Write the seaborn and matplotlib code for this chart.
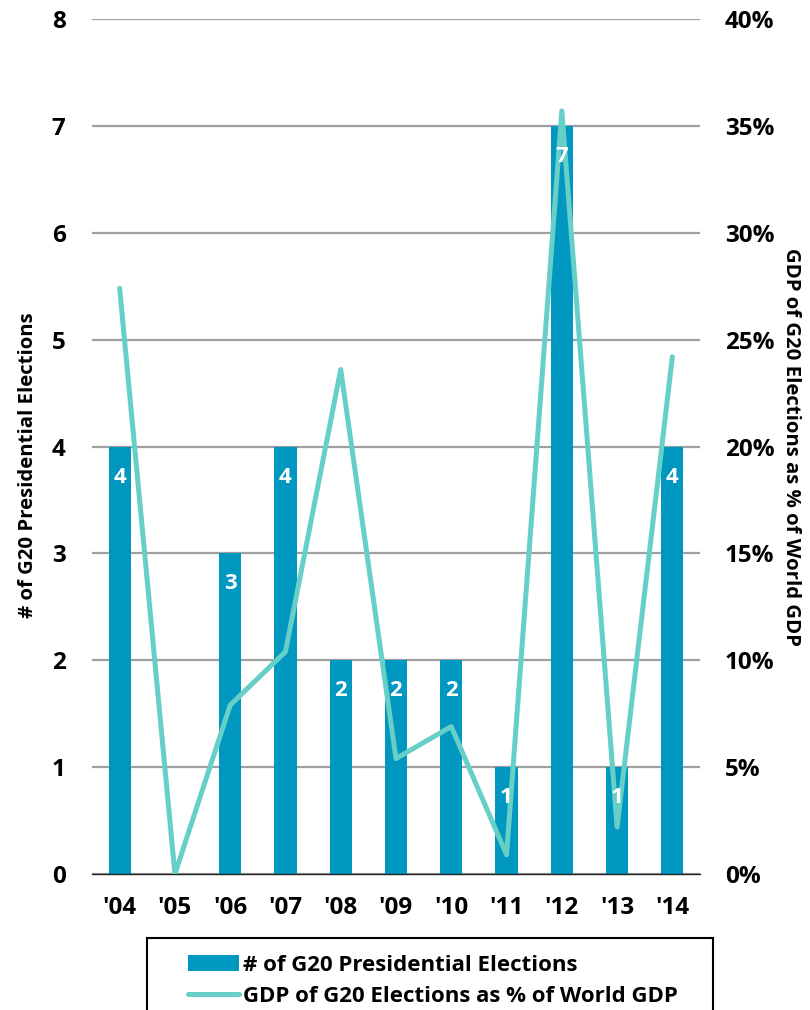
import numpy as np
import pandas as pd
import matplotlib
matplotlib.use("Agg")
import matplotlib.pyplot as plt
from matplotlib.patches import Patch, Rectangle
from matplotlib.lines import Line2D
from matplotlib.ticker import FuncFormatter, MultipleLocator
import seaborn as sns

# Data
years = ["'04", "'05", "'06", "'07", "'08", "'09", "'10", "'11", "'12", "'13", "'14"]
elections = [4, 0, 3, 4, 2, 2, 2, 1, 7, 1, 4]
gdp_share = [27.4, 0.0, 7.9, 10.4, 23.6, 5.4, 6.9, 0.9, 35.7, 2.2, 24.2]

bar_label = "# of G20 Presidential Elections"
line_label = "GDP of G20 Elections as % of World GDP"

BAR_COLOR = "#0097C1"
LINE_COLOR = "#66CFC7"
GRID_COLOR = "#A0A0A0"

sns.set_theme(style="white")
plt.rcParams["font.family"] = ["Open Sans", "DejaVu Sans"]
plt.rcParams["font.weight"] = "bold"
for key in ["text.color", "axes.labelcolor", "xtick.color", "ytick.color"]:
    plt.rcParams[key] = "black"

df = pd.DataFrame({"year": years, "elections": elections,
                   "pos": np.arange(len(years)), "gdp": gdp_share})

fig = plt.figure(figsize=(8.1, 10.1), dpi=100)
ax = fig.add_axes([92 / 810, 1 - 874 / 1010, 608 / 810, 855 / 1010])

sns.barplot(data=df, x="year", y="elections", color=BAR_COLOR, saturation=1,
            width=0.4, ax=ax, zorder=2, linewidth=0, edgecolor="none")
ax.set_xlim(-0.5, len(years) - 0.5)
ax.set_ylim(0, 8)
ax.yaxis.set_major_locator(MultipleLocator(1))
ax.set_axisbelow(True)
ax.grid(axis="y", color=GRID_COLOR, linewidth=1.6)
ax.grid(axis="x", visible=False)
for side in ["left", "right", "top"]:
    ax.spines[side].set_visible(False)
ax.spines["bottom"].set_color("#222222")
ax.spines["bottom"].set_linewidth(1.0)
ax.spines["bottom"].set_zorder(3)
ax.tick_params(axis="y", length=0, pad=19, labelsize=17.5)
ax.tick_params(axis="x", length=0, pad=16, labelsize=17.5)
for lab in ax.get_xticklabels() + ax.get_yticklabels():
    lab.set_fontweight("bold")
ax.set_xlabel("")
ax.set_ylabel(bar_label, fontsize=14.7, fontweight="bold", labelpad=10)
ax.yaxis.label.set_y(0.478)

ax2 = ax.twinx()
sns.lineplot(data=df, x="pos", y="gdp", color=LINE_COLOR, linewidth=3.6,
             ax=ax2, solid_joinstyle="round", solid_capstyle="round")
ax2.set_ylim(0, 40)
ax2.yaxis.set_major_locator(MultipleLocator(5))
ax2.yaxis.set_major_formatter(FuncFormatter(lambda v, p: f"{v:.0f}%"))
for side in ["left", "right", "top", "bottom"]:
    ax2.spines[side].set_visible(False)
ax2.tick_params(axis="y", length=0, pad=18, labelsize=17.5)
for lab in ax2.get_yticklabels():
    lab.set_fontweight("bold")
ax2.set_ylabel(line_label, fontsize=14.7, fontweight="bold", rotation=-90,
               labelpad=19)
ax2.set_xlabel("")

# Value labels inside the bars, drawn above the line
for i, v in enumerate(elections):
    if v > 0:
        ax2.annotate(str(v), xy=(i, v), xycoords=ax.transData,
                     xytext=(0, -22), textcoords="offset points",
                     ha="center", va="center", color="white",
                     fontsize=16, fontweight="bold", zorder=10)

# Legend with a plain rectangular frame
fig.add_artist(Rectangle((147 / 810, 1 - 1015 / 1010), 566 / 810, 77 / 1010,
                         transform=fig.transFigure, fill=False,
                         edgecolor="black", linewidth=1.5))
handles = [Patch(facecolor=BAR_COLOR, edgecolor="none"),
           Line2D([0], [0], color=LINE_COLOR, linewidth=3.6,
                  solid_capstyle="round")]
fig.legend(handles, [bar_label, line_label], loc="upper left",
           bbox_to_anchor=(172 / 810, 1 - 939 / 1010), frameon=False,
           prop={"size": 16, "weight": "bold"}, handlelength=2.3,
           handleheight=0.75, handletextpad=0.2, labelspacing=0.45,
           borderpad=0.2)

fig.savefig("out.png", dpi=100)
